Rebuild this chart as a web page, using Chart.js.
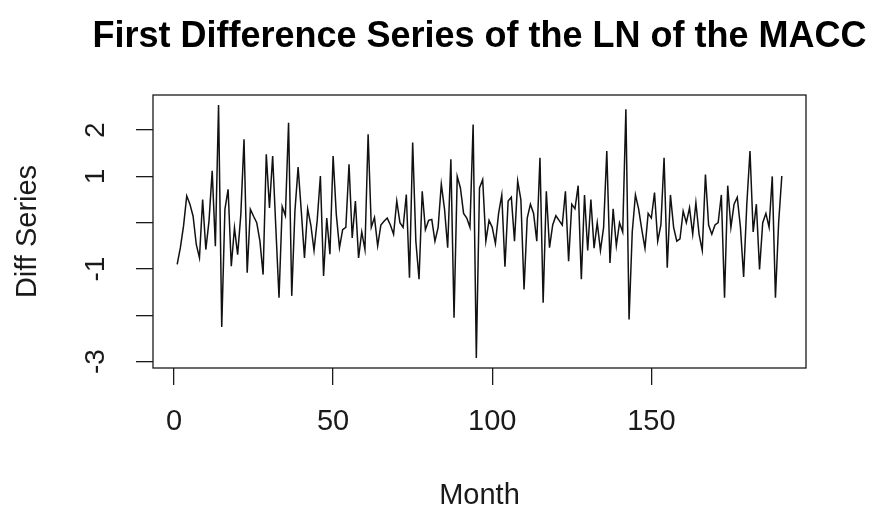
<!DOCTYPE html>
<html>
<head>
<meta charset="utf-8">
<script src="https://cdn.jsdelivr.net/npm/chart.js@4/dist/chart.umd.min.js"></script>
<style>
  html, body { margin: 0; padding: 0; background: #ffffff; }
  #wrap { width: 875px; height: 512px; }
</style>
</head>
<body>
<div id="wrap"><canvas id="c" width="875" height="512"></canvas></div>
<script>
// ---- data ----
const chartTitle = 'First Difference Series of the LN of the MACC';
const xAxisTitle = 'Month';
const yAxisTitle = 'Diff Series';
const months = Array.from({ length: 191 }, (_, i) => i + 1);
const diffSeries = [
  -0.90, -0.54, -0.07, 0.58, 0.40, 0.14, -0.47, -0.76, 0.50, -0.58,
  0.04, 1.12, -0.51, 2.54, -2.25, 0.29, 0.72, -0.94, -0.11, -0.69,
  0.18, 1.80, -1.08, 0.29, 0.14, 0.00, -0.40, -1.12, 1.48, 0.32,
  1.44, -0.11, -1.62, 0.35, 0.15, 2.16, -1.58, 0.25, 1.20, 0.25,
  -0.76, 0.30, -0.05, -0.60, 0.05, 1.01, -1.15, 0.10, -0.68, 1.44,
  0.18, -0.54, -0.15, -0.10, 1.26, -0.33, 0.47, -0.76, -0.20, -0.58,
  1.91, -0.10, 0.11, -0.50, -0.05, 0.03, 0.10, -0.05, -0.25, 0.47,
  0.00, -0.10, 0.61, -1.19, 1.73, -0.40, -1.22, 0.68, -0.15, 0.05,
  0.07, -0.40, -0.10, 0.83, 0.30, -0.54, 1.37, -2.05, 1.00, 0.75,
  0.20, 0.10, -0.10, 2.12, -2.92, 0.75, 0.93, -0.40, 0.05, -0.10,
  -0.45, 0.20, 0.60, -0.95, 0.47, 0.55, -0.40, 0.90, 0.50, -1.44,
  0.10, 0.40, 0.20, -0.40, 1.40, -1.73, 0.68, -0.54, -0.05, 0.15,
  0.05, -0.05, 0.68, -0.83, 0.40, 0.30, 0.80, -1.22, 0.60, -0.60,
  0.50, -0.55, 0.00, -0.60, -0.10, 1.55, -0.87, 0.30, -0.50, 0.00,
  -0.20, 2.45, -2.09, -0.20, 0.60, 0.30, -0.15, -0.55, 0.20, 0.10,
  0.65, -0.40, -0.05, 1.40, -0.97, 0.60, -0.10, -0.40, -0.35, 0.25,
  0.00, 0.32, -0.25, 0.43, -0.25, -0.60, 1.04, -0.05, -0.25, -0.05,
  0.00, 0.60, -1.62, 0.80, -0.10, 0.40, 0.55, -0.10, -1.17, 0.40,
  1.55, -0.20, 0.40, -1.01, 0.00, 0.20, -0.10, 1.00, -1.62, 0.00,
  1.01
];
const xTicks = [0, 50, 100, 150];
const xTickLabels = ['0', '50', '100', '150'];
const yTicks = [-3, -2, -1, 0, 1, 2];
const yTickLabels = ['-3', '', '-1', '', '1', '2'];

// ---- chart ----
const FONT = '"Liberation Sans", Arial, Helvetica, sans-serif';
const INK = '#1a1a1a';

const boxPlugin = {
  id: 'rbox',
  afterDraw(chart) {
    const { ctx, chartArea: a } = chart;
    ctx.save();
    ctx.strokeStyle = INK;
    ctx.lineWidth = 1.3;
    ctx.strokeRect(a.left, a.top, a.right - a.left, a.bottom - a.top);
    ctx.restore();
  }
};

new Chart(document.getElementById('c'), {
  type: 'line',
  data: {
    labels: months,
    datasets: [{
      data: diffSeries,
      borderColor: '#111111',
      borderWidth: 1.5,
      pointRadius: 0,
      tension: 0,
      fill: false
    }]
  },
  options: {
    responsive: false,
    devicePixelRatio: 1,
    animation: false,
    layout: { padding: { left: 84, right: 0, top: 0, bottom: 0 } },
    plugins: {
      legend: { display: false },
      tooltip: { enabled: false },
      title: {
        display: true,
        text: chartTitle,
        color: '#000000',
        font: { family: FONT, size: 36, weight: 'bold', lineHeight: 1.2 },
        padding: { top: 15.4, bottom: 36.4 }
      }
    },
    scales: {
      x: {
        type: 'linear',
        position: 'bottom',
        min: -6.6,
        max: 198.6,
        afterBuildTicks(s) { s.ticks = xTicks.map(v => ({ value: v })); },
        afterFit(s) { s.height = 144; },
        border: { display: false },
        grid: { display: true, drawOnChartArea: false, drawTicks: true, tickLength: 17, color: INK, lineWidth: 1.3 },
        ticks: {
          color: INK,
          font: { family: FONT, size: 29, lineHeight: 1.2 },
          padding: 19.6,
          maxRotation: 0,
          minRotation: 0,
          autoSkip: false,
          callback(v) { const k = xTicks.indexOf(v); return k >= 0 ? xTickLabels[k] : ''; }
        },
        title: {
          display: true,
          text: xAxisTitle,
          color: INK,
          font: { family: FONT, size: 29, lineHeight: 1.2 },
          padding: { top: 0, bottom: -1 }
        }
      },
      y: {
        type: 'linear',
        position: 'left',
        min: -3.138,
        max: 2.758,
        afterBuildTicks(s) { s.ticks = yTicks.map(v => ({ value: v })); },
        afterFit(s) { s.width = 69; },
        border: { display: false },
        grid: { display: true, drawOnChartArea: false, drawTicks: true, tickLength: 17, color: INK, lineWidth: 1.3 },
        ticks: {
          color: INK,
          font: { family: FONT, size: 28, lineHeight: 1.2 },
          padding: 27,
          minRotation: 90,
          maxRotation: 90,
          crossAlign: 'center',
          autoSkip: false,
          callback(v) { const k = yTicks.indexOf(v); return k >= 0 ? yTickLabels[k] : ''; }
        },
        title: {
          display: true,
          text: yAxisTitle,
          color: INK,
          font: { family: FONT, size: 29, lineHeight: 1.2 },
          padding: { top: -73.4, bottom: 0 }
        }
      },
      y2: {
        type: 'linear',
        position: 'right',
        display: true,
        afterFit(s) { s.width = 69; },
        border: { display: false },
        grid: { display: false, drawTicks: false },
        ticks: { display: false }
      }
    }
  },
  plugins: [boxPlugin]
});
</script>
</body>
</html>
